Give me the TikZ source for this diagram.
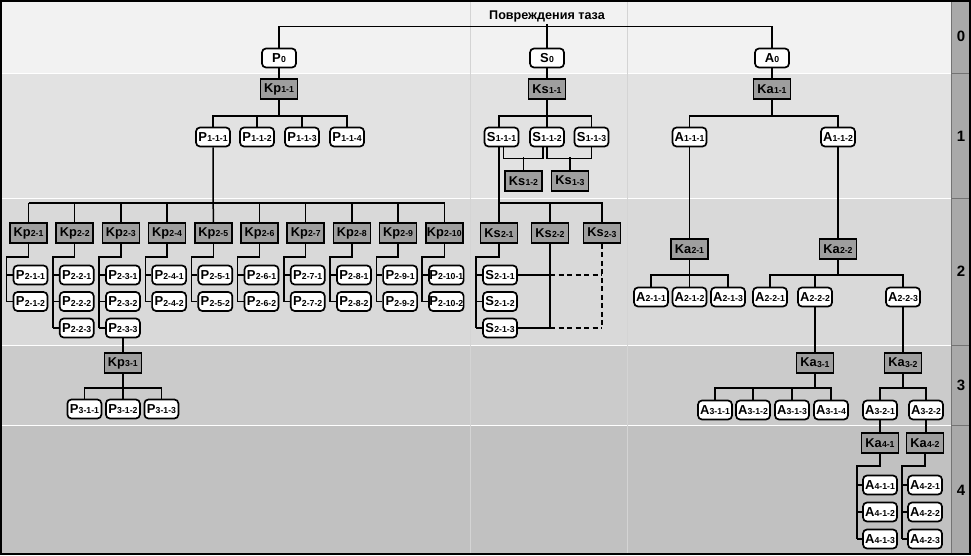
\documentclass[tikz,border=0pt]{standalone}
\usepackage{fontspec}
\setmainfont{Liberation Sans}
\definecolor{bandA}{HTML}{F2F2F2}
\definecolor{bandB}{HTML}{E2E2E2}
\definecolor{bandC}{HTML}{D9D9D9}
\definecolor{bandD}{HTML}{CBCBCB}
\definecolor{bandE}{HTML}{C1C1C1}
\definecolor{stripc}{HTML}{A9A9A9}
\definecolor{boxgray}{HTML}{9E9E9E}
\definecolor{sepc}{HTML}{D4D4D4}
\newcommand\nd[2]{#1\kern0.2pt{\fontsize{8.7}{8.7}\selectfont\raisebox{-0.8pt}{#2}}}
\tikzset{
  rn/.style={draw, line width=1.7pt, rounded corners=4pt, fill=white, minimum width=34pt, minimum height=19pt, inner sep=0.3pt, font=\bfseries\fontsize{13}{13}\selectfont},
  gb/.style={draw, line width=1.6pt, fill=boxgray, minimum width=37pt, minimum height=20pt, inner sep=0.3pt, font=\bfseries\fontsize{12.8}{12.8}\selectfont},
  ln/.style={line width=1.5pt},
  dl/.style={line width=1.5pt, dash pattern=on 5pt off 3.5pt},
  lvl/.style={font=\bfseries\fontsize{15}{15}\selectfont},
}
\begin{document}
\begin{tikzpicture}[x=1pt,y=-1pt]
\useasboundingbox (0,0) rectangle (971,555);
% bands
\fill[bandA] (0,0) rectangle (951,73);
\fill[bandB] (0,73) rectangle (951,198);
\fill[bandC] (0,198) rectangle (951,345);
\fill[bandD] (0,345) rectangle (951,425);
\fill[bandE] (0,425) rectangle (951,555);
\foreach \yy in {73,198,345,425} \draw[white, line width=1pt] (0,\yy) -- (951,\yy);
\draw[sepc, line width=1pt] (470,0) -- (470,555);
\draw[sepc, line width=1pt] (627,0) -- (627,555);
% level strip
\fill[stripc] (951,0) rectangle (971,555);
\draw[black!55, line width=1pt] (951,0) -- (951,555);
\foreach \yy in {73,198,345,425} \draw[black!55, line width=1pt] (951,\yy) -- (971,\yy);
\node[lvl] (L0) at (961,36) {0};
\node[lvl] (L1) at (961,136) {1};
\node[lvl] (L2) at (961,271) {2};
\node[lvl] (L3) at (961,385) {3};
\node[lvl] (L4) at (961,490) {4};
\draw[line width=2pt] (1,1) rectangle (970,554);

% ===== level 0
\node[font=\bfseries\fontsize{12.6}{12.6}\selectfont, inner sep=2pt] (title) at (547,16) {Повреждения таза};
\node[rn] (P0) at (279,58) {\nd{P}{0}};
\node[rn] (S0) at (547,58) {\nd{S}{0}};
\node[rn] (A0) at (772,58) {\nd{A}{0}};
\draw[ln] (title.south) -- (S0.north);
\draw[ln] (P0.north) -- ++(0,-21) -| (A0.north);

% ===== level 1
\node[gb] (Kp1-1) at (279,89) {\nd{Kp}{1-1}};
\node[gb] (Ks1-1) at (547,89) {\nd{Ks}{1-1}};
\node[gb] (Ka1-1) at (772,89) {\nd{Ka}{1-1}};
\draw[ln] (P0.south) -- (Kp1-1.north);
\draw[ln] (S0.south) -- (Ks1-1.north);
\draw[ln] (A0.south) -- (Ka1-1.north);

\foreach \j/\xx in {1/213,2/257,3/302,4/347}
  \node[rn] (P1-1-\j) at (\xx,137) {\nd{P}{1-1-\j}};
\draw[ln] (Kp1-1.south) -- ++(0,16) coordinate (kpb);
\draw[ln] (P1-1-1.north) |- (kpb) -| (P1-1-4.north);
\draw[ln] (P1-1-2.north) -- (P1-1-2.north |- kpb);
\draw[ln] (P1-1-3.north) -- (P1-1-3.north |- kpb);

\node[rn] (S1-1-1) at (501.5,137) {\nd{S}{1-1-1}};
\node[rn] (S1-1-2) at (547,137) {\nd{S}{1-1-2}};
\node[rn] (S1-1-3) at (591.5,137) {\nd{S}{1-1-3}};
\draw[ln] (Ks1-1.south) -- ++(0,16) coordinate (ksb);
\draw[ln] ([xshift=-2.5pt]S1-1-1.north) |- (ksb) -| (S1-1-3.north);
\draw[ln] (S1-1-2.north) -- (S1-1-2.north |- ksb);

\node[gb] (Ks1-2) at (523.5,181) {\nd{Ks}{1-2}};
\node[gb] (Ks1-3) at (570,181) {\nd{Ks}{1-3}};
\draw[ln] ([xshift=2pt]S1-1-1.south) -- ++(0,11) -| ([xshift=-4pt]S1-1-2.south);
\draw[ln] (S1-1-2.south) -- ++(0,11) -| (S1-1-3.south);
\draw[ln] (Ks1-2.north) -- ++(0,-13);
\draw[ln] (Ks1-3.north) -- ++(0,-13);

\node[rn] (A1-1-1) at (689.5,137) {\nd{A}{1-1-1}};
\node[rn] (A1-1-2) at (838,137) {\nd{A}{1-1-2}};
\draw[ln] (Ka1-1.south) -- ++(0,16) coordinate (kab);
\draw[ln] (A1-1-1.north) |- (kab) -| (A1-1-2.north);

% ===== level 2 : P branch
\foreach \i/\n in {1/2,2/3,3/3,4/2,5/2,6/2,7/2,8/2,9/2,10/2} {
  \pgfmathsetmacro\xx{28.5+46.2*(\i-1)}
  \node[gb] (Kp2-\i) at (\xx,233) {\nd{Kp}{2-\i}};
  \draw[ln] (Kp2-\i.north) -- ++(0,-19);
  \foreach \j in {1,...,\n} {
    \pgfmathsetmacro\yy{275+26.5*(\j-1)}
    \node[rn] (P2-\i-\j) at (\xx+2,\yy) {\nd{P}{2-\i-\j}};
    \draw[ln] ([xshift=-6pt]P2-\i-\j.west) -- (P2-\i-\j.west);
  }
  \draw[ln] (Kp2-\i.south) -- ++(0,13) -| ([xshift=-6pt]P2-\i-\n.west);
}
\draw[ln] (Kp2-1.north) ++(0,-19) -| (Kp2-10.north);
\draw[ln] (P1-1-1.south) -- (Kp2-5.north);

% level 2 : S branch
\node[gb] (Ks2-1) at (499,233) {\nd{Ks}{2-1}};
\node[gb] (Ks2-2) at (550,233) {\nd{Ks}{2-2}};
\node[gb] (Ks2-3) at (602,233) {\nd{Ks}{2-3}};
\draw[ln] (Ks2-1.north |- S1-1-1.south) -- (Ks2-1.north);
\draw[ln] (Ks2-1.north) ++(0,-19) -| (Ks2-3.north);
\draw[ln] (Ks2-2.north) -- ++(0,-19);
\foreach \j/\yy in {1/275,2/301.5,3/328} {
  \node[rn] (S2-1-\j) at (500,\yy) {\nd{S}{2-1-\j}};
  \draw[ln] ([xshift=-6pt]S2-1-\j.west) -- (S2-1-\j.west);
}
\draw[ln] (Ks2-1.south) -- ++(0,13) -| ([xshift=-6pt]S2-1-3.west);
\draw[ln] (Ks2-2.south) -- (Ks2-2.south |- S2-1-3.east);
\draw[ln] (S2-1-1.east) -- (S2-1-1.east -| Ks2-2.south);
\draw[ln] (S2-1-3.east) -- (S2-1-3.east -| Ks2-2.south);
\draw[dl] (S2-1-1.east -| Ks2-2.south) -- (S2-1-1.east -| Ks2-3.south);
\draw[dl] (S2-1-3.east -| Ks2-2.south) -- (S2-1-3.east -| Ks2-3.south);
\draw[dl] (Ks2-3.south) -- (Ks2-3.south |- S2-1-3.east);

% level 2 : A branch
\node[gb] (Ka2-1) at (689.5,249) {\nd{Ka}{2-1}};
\node[gb] (Ka2-2) at (838,249) {\nd{Ka}{2-2}};
\draw[ln] (A1-1-1.south) -- (Ka2-1.north);
\draw[ln] (A1-1-2.south) -- (Ka2-2.north);
\foreach \j/\xx in {1/651,2/689.5,3/728}
  \node[rn] (A2-1-\j) at (\xx,297) {\nd{A}{2-1-\j}};
\draw[ln] (Ka2-1.south) -- ++(0,15) coordinate (ka21b);
\draw[ln] (A2-1-1.north) |- (ka21b) -| (A2-1-3.north);
\draw[ln] (A2-1-2.north) -- (A2-1-2.north |- ka21b);
\foreach \j/\xx in {1/770,2/815,3/903}
  \node[rn] (A2-2-\j) at (\xx,297) {\nd{A}{2-2-\j}};
\draw[ln] (Ka2-2.south) -- ++(0,15) coordinate (ka22b);
\draw[ln] (A2-2-1.north) |- (ka22b) -| (A2-2-3.north);
\draw[ln] (A2-2-2.north) -- (A2-2-2.north |- ka22b);

% ===== level 3
\node[gb] (Kp3-1) at (122.9,363) {\nd{Kp}{3-1}};
\draw[ln] (P2-3-3.south) -- (Kp3-1.north);
\foreach \j/\xx in {1/84.4,2/122.9,3/161.4}
  \node[rn] (P3-1-\j) at (\xx,409) {\nd{P}{3-1-\j}};
\draw[ln] (Kp3-1.south) -- ++(0,14) coordinate (kp31b);
\draw[ln] (P3-1-1.north) |- (kp31b) -| (P3-1-3.north);
\draw[ln] (P3-1-2.north) -- (P3-1-2.north |- kp31b);

\node[gb] (Ka3-1) at (815,363) {\nd{Ka}{3-1}};
\node[gb] (Ka3-2) at (903,363) {\nd{Ka}{3-2}};
\draw[ln] (A2-2-2.south) -- (Ka3-1.north);
\draw[ln] (A2-2-3.south) -- (Ka3-2.north);
\foreach \j/\xx in {1/715,2/753,3/792,4/831}
  \node[rn] (A3-1-\j) at (\xx,410) {\nd{A}{3-1-\j}};
\draw[ln] (Ka3-1.south) -- ++(0,14) coordinate (ka31b);
\draw[ln] (A3-1-1.north) |- (ka31b) -| (A3-1-4.north);
\draw[ln] (A3-1-2.north) -- (A3-1-2.north |- ka31b);
\draw[ln] (A3-1-3.north) -- (A3-1-3.north |- ka31b);
\node[rn] (A3-2-1) at (880,410) {\nd{A}{3-2-1}};
\node[rn] (A3-2-2) at (926,410) {\nd{A}{3-2-2}};
\draw[ln] (Ka3-2.south) -- ++(0,14) coordinate (ka32b);
\draw[ln] (A3-2-1.north) |- (ka32b) -| (A3-2-2.north);

% ===== level 4
\node[gb] (Ka4-1) at (880,443) {\nd{Ka}{4-1}};
\node[gb] (Ka4-2) at (925,443) {\nd{Ka}{4-2}};
\draw[ln] (A3-2-1.south) -- (Ka4-1.north);
\draw[ln] (A3-2-2.south) -- (Ka4-1.north -| A3-2-2.south);
\foreach \k/\xx in {1/880,2/925} {
  \foreach \j/\yy in {1/485,2/512,3/539} {
    \node[rn] (A4-\k-\j) at (\xx,\yy) {\nd{A}{4-\k-\j}};
    \draw[ln] ([xshift=-5pt]A4-\k-\j.west) -- (A4-\k-\j.west);
  }
  \draw[ln] (Ka4-\k.south) -- ++(0,12) -| ([xshift=-5pt]A4-\k-3.west);
}
\end{tikzpicture}
\end{document}
